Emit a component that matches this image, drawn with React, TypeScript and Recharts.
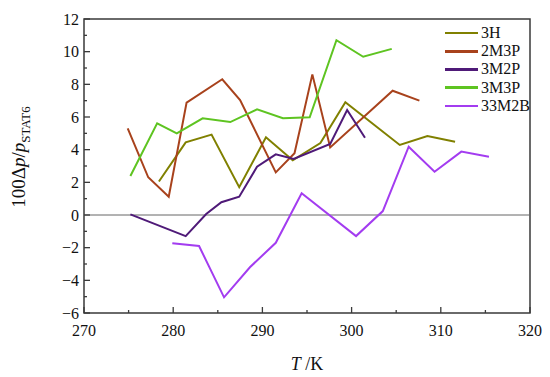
import React from 'react';
import { Legend, Line, LineChart, ReferenceArea, ReferenceLine, XAxis, YAxis } from 'recharts';

const font = '"Liberation Serif", "Times New Roman", serif';
const axisColor = '#3a3a3a';

// temperatures (K) and 100Δp/p values per compound
const t3H = [278.4, 281.4, 284.3, 287.4, 290.4, 293.4, 296.5, 299.3, 305.4, 308.5, 311.6];
const v3H = [2.05, 4.45, 4.92, 1.7, 4.76, 3.35, 4.4, 6.9, 4.29, 4.84, 4.49];

const t2M3P = [274.9, 277.2, 279.5, 281.5, 285.5, 287.5, 291.5, 293.6, 295.6, 297.6, 304.6, 307.6];
const v2M3P = [5.3, 2.31, 1.12, 6.88, 8.31, 7.04, 2.61, 3.78, 8.61, 4.14, 7.61, 7.0];

const t3M2P = [275.2, 281.4, 283.7, 285.4, 287.4, 289.4, 291.5, 293.5, 297.6, 299.5, 301.5];
const v3M2P = [0.04, -1.29, 0.06, 0.78, 1.12, 2.96, 3.71, 3.43, 4.35, 6.43, 4.73];

const t3M3P = [275.2, 278.2, 280.4, 283.3, 286.4, 289.4, 292.3, 295.3, 298.3, 301.3, 304.5];
const v3M3P = [2.39, 5.61, 5.0, 5.92, 5.69, 6.47, 5.92, 5.98, 10.7, 9.69, 10.17];

const t33M2B = [279.9, 282.9, 285.7, 288.6, 291.5, 294.4, 300.5, 303.5, 306.4, 309.3, 312.3, 315.4];
const v33M2B = [-1.73, -1.9, -5.04, -3.2, -1.7, 1.33, -1.29, 0.24, 4.18, 2.65, 3.88, 3.57];

const xTicks = [270, 275, 280, 285, 290, 295, 300, 305, 310, 315, 320];
const xLabels = [270, 280, 290, 300, 310, 320];
const yTicks = [-6, -5, -4, -3, -2, -1, 0, 1, 2, 3, 4, 5, 6, 7, 8, 9, 10, 11, 12];
const yLabels = [-6, -4, -2, 0, 2, 4, 6, 8, 10, 12];

const toPoints = (t: number[], v: number[]) => t.map((x, i) => ({ x, y: v[i] }));

const series = [
  { name: '3H', color: '#808000', data: toPoints(t3H, v3H) },
  { name: '2M3P', color: '#a8421c', data: toPoints(t2M3P, v2M3P) },
  { name: '3M2P', color: '#4f1a78', data: toPoints(t3M2P, v3M2P) },
  { name: '3M3P', color: '#5ec421', data: toPoints(t3M3P, v3M3P) },
  { name: '33M2B', color: '#a33cf0', data: toPoints(t33M2B, v33M2B) },
];

const fmt = (v: number) => (v < 0 ? '\u2212' + Math.abs(v) : String(v));

const XTick = (props: any) => {
  const { x, y, payload } = props;
  const major = xLabels.includes(payload.value);
  return (
    <g>
      <line x1={x} x2={x} y1={y} y2={y - (major ? 6 : 3)} stroke={axisColor} strokeWidth={1.3} />
      {major && (
        <text x={x} y={y + 23} textAnchor="middle" fontSize={16} fontFamily={font} fill="#111">
          {payload.value}
        </text>
      )}
    </g>
  );
};

const YTick = (props: any) => {
  const { x, y, payload } = props;
  const major = yLabels.includes(payload.value);
  return (
    <g>
      <line x1={x} x2={x + (major ? 6 : 3)} y1={y} y2={y} stroke={axisColor} strokeWidth={1.3} />
      {major && (
        <text x={x - 5} y={y + 5.5} textAnchor="end" fontSize={16} fontFamily={font} fill="#111">
          {fmt(payload.value)}
        </text>
      )}
    </g>
  );
};

const YLabel = (props: any) => {
  const vb = props.viewBox || { x: 0, y: 19, width: 84, height: 294 };
  const cx = vb.x + 25;
  const cy = vb.y + vb.height / 2 - 9;
  return (
    <text
      x={cx}
      y={cy}
      transform={`rotate(-90 ${cx} ${cy})`}
      textAnchor="middle"
      fontSize={19}
      fontFamily={font}
      fill="#111"
    >
      100Δ<tspan fontStyle="italic">p</tspan>/<tspan fontStyle="italic">p</tspan>
      <tspan fontSize={13} dy={5}>STAT6</tspan>
    </text>
  );
};

const XLabel = (props: any) => {
  const vb = props.viewBox || { x: 84, y: 313, width: 446, height: 64 };
  return (
    <text x={vb.x + vb.width / 2} y={vb.y + 57} textAnchor="middle" fontSize={18} fontFamily={font} fill="#111">
      <tspan fontStyle="italic">T</tspan> /K
    </text>
  );
};

const LegendBox = () => (
  <div style={{ fontFamily: font, fontSize: 16, color: '#111' }}>
    {series.map((s) => (
      <div key={s.name} style={{ display: 'flex', alignItems: 'center', height: 18.2 }}>
        <div style={{ width: 33, height: 2.5, background: s.color, marginRight: 3 }} />
        <span style={{ lineHeight: '18px' }}>{s.name}</span>
      </div>
    ))}
  </div>
);

const App = () => (
  <div style={{ position: 'absolute', left: 0, top: 0, fontFamily: font, background: '#fff' }}>
    <LineChart width={550} height={377} margin={{ top: 19, right: 20, bottom: 0, left: 0 }}>
      <XAxis
        dataKey="x"
        type="number"
        domain={[270, 320]}
        ticks={xTicks}
        interval={0}
        height={64}
        tickSize={0}
        tickMargin={0}
        axisLine={false}
        tickLine={false}
        tick={<XTick />}
        allowDataOverflow
        label={{ content: XLabel }}
      />
      <YAxis
        type="number"
        domain={[-6, 12]}
        ticks={yTicks}
        interval={0}
        width={84}
        tickSize={0}
        tickMargin={0}
        axisLine={false}
        tickLine={false}
        tick={<YTick />}
        allowDataOverflow
        label={{ content: YLabel }}
      />
      <ReferenceArea x1={270} x2={320} y1={-6} y2={12} fill="none" stroke={axisColor} strokeWidth={1.5} />
      <ReferenceLine y={0} stroke="#666" strokeWidth={1} />
      {series.map((s) => (
        <Line
          key={s.name}
          data={s.data}
          dataKey="y"
          name={s.name}
          type="linear"
          stroke={s.color}
          strokeWidth={2}
          dot={false}
          activeDot={false}
          isAnimationActive={false}
        />
      ))}
      <Legend
        layout="vertical"
        align="center"
        verticalAlign="middle"
        content={<LegendBox />}
        wrapperStyle={{ left: 445, top: 24, width: 90 }}
      />
    </LineChart>
  </div>
);

export default App;
